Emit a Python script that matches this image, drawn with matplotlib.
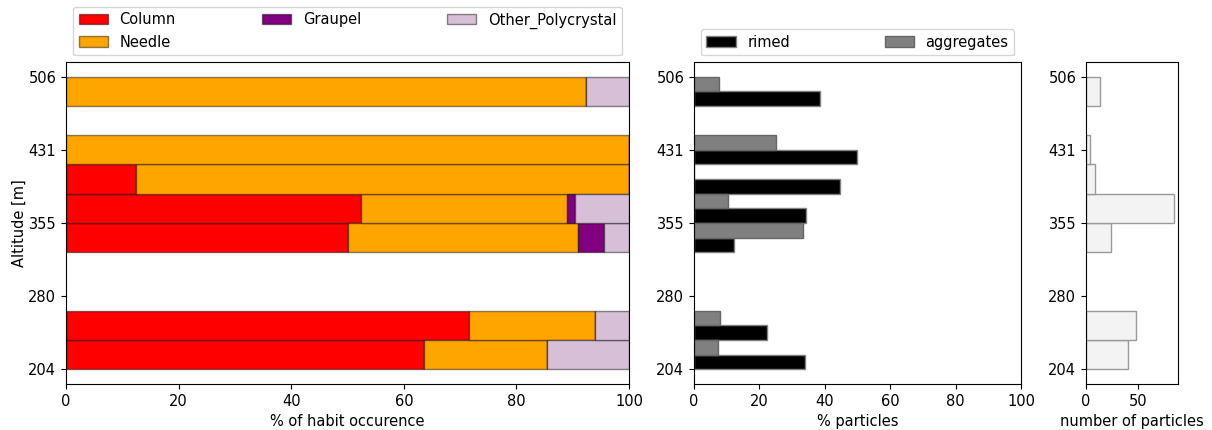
import matplotlib
matplotlib.use("Agg")
import matplotlib.pyplot as plt
import numpy as np

# Altitude bin index (bins 0..10 between 204 m and 506 m)
bins = [0, 1, 4, 5, 6, 7, 9]
tick_pos = [0, 2.5, 5, 7.5, 10]
tick_labels = ["204", "280", "355", "431", "506"]

# Habit occurrence [%]
column = [63.5, 71.5, 50.0, 52.4, 12.5, 0.0, 0.0]
needle = [22.0, 22.4, 41.0, 36.6, 87.5, 100.0, 92.4]
graupel = [0.0, 0.0, 4.6, 1.4, 0.0, 0.0, 0.0]
other_poly = [14.5, 6.1, 4.4, 9.6, 0.0, 0.0, 7.6]

# Rimed / aggregates [%]
rimed = [34.1, 22.4, 12.3, 34.2, 44.5, 50.0, 38.5]
aggregates = [7.4, 8.0, 33.2, 10.5, 0.0, 25.0, 7.5]

# Number of particles
n_particles = [40, 48, 24, 84, 9, 4, 13]

FS = 10.5
plt.rcParams['font.family'] = ['DejaVu Sans']
plt.rcParams['font.size'] = FS

fig = plt.figure(figsize=(12.12, 4.30), dpi=100)
ax1 = fig.add_axes([0.0545, 0.107, 0.4645, 0.749])
ax2 = fig.add_axes([0.5726, 0.107, 0.2698, 0.749])
ax3 = fig.add_axes([0.8960, 0.107, 0.0759, 0.749])

y = np.array(bins, dtype=float)
edge = (0, 0, 0, 0.45)
left = np.zeros(len(bins))
for vals, col, lab in [(column, 'red', 'Column'), (needle, 'orange', 'Needle'),
                       (graupel, 'purple', 'Graupel'), (other_poly, 'thistle', 'Other_Polycrystal')]:
    ax1.barh(y, vals, height=1.0, left=left, align='edge', color=col,
             edgecolor=edge, linewidth=1.0, label=lab)
    left = left + np.array(vals)
ax1.set_xlim(0, 100)
ax1.set_ylim(-0.5, 10.5)
ax1.set_yticks(tick_pos)
ax1.set_yticklabels(tick_labels)
ax1.set_ylabel('Altitude [m]', labelpad=1)
ax1.set_xlabel('% of habit occurence')
ax1.legend(ncol=3, loc='lower left', bbox_to_anchor=(0.012, 1.02, 0.976, 0.2),
           mode='expand', borderaxespad=0.0, fontsize=FS)

ax2.barh(y, rimed, height=0.5, align='edge', color='black', edgecolor='0.5',
         linewidth=1.0, label='rimed')
ax2.barh(y + 0.5, aggregates, height=0.5, align='edge', color='grey', edgecolor='0.4',
         linewidth=1.0, label='aggregates')
ax2.set_xlim(0, 100)
ax2.set_ylim(-0.5, 10.5)
ax2.set_yticks(tick_pos)
ax2.set_yticklabels(tick_labels)
ax2.set_xlabel('% particles')
ax2.legend(ncol=2, loc='lower left', bbox_to_anchor=(0.02, 1.02, 0.96, 0.2),
           mode='expand', borderaxespad=0.0, fontsize=FS)

ax3.barh(y, n_particles, height=1.0, align='edge', color='#f3f3f3', edgecolor='0.6',
         linewidth=1.0)
ax3.set_ylim(-0.5, 10.5)
ax3.set_yticks(tick_pos)
ax3.set_yticklabels(tick_labels)
ax3.set_xticks([0, 50])
ax3.set_xlabel('number of particles')

fig.savefig('out.png', dpi=100)
